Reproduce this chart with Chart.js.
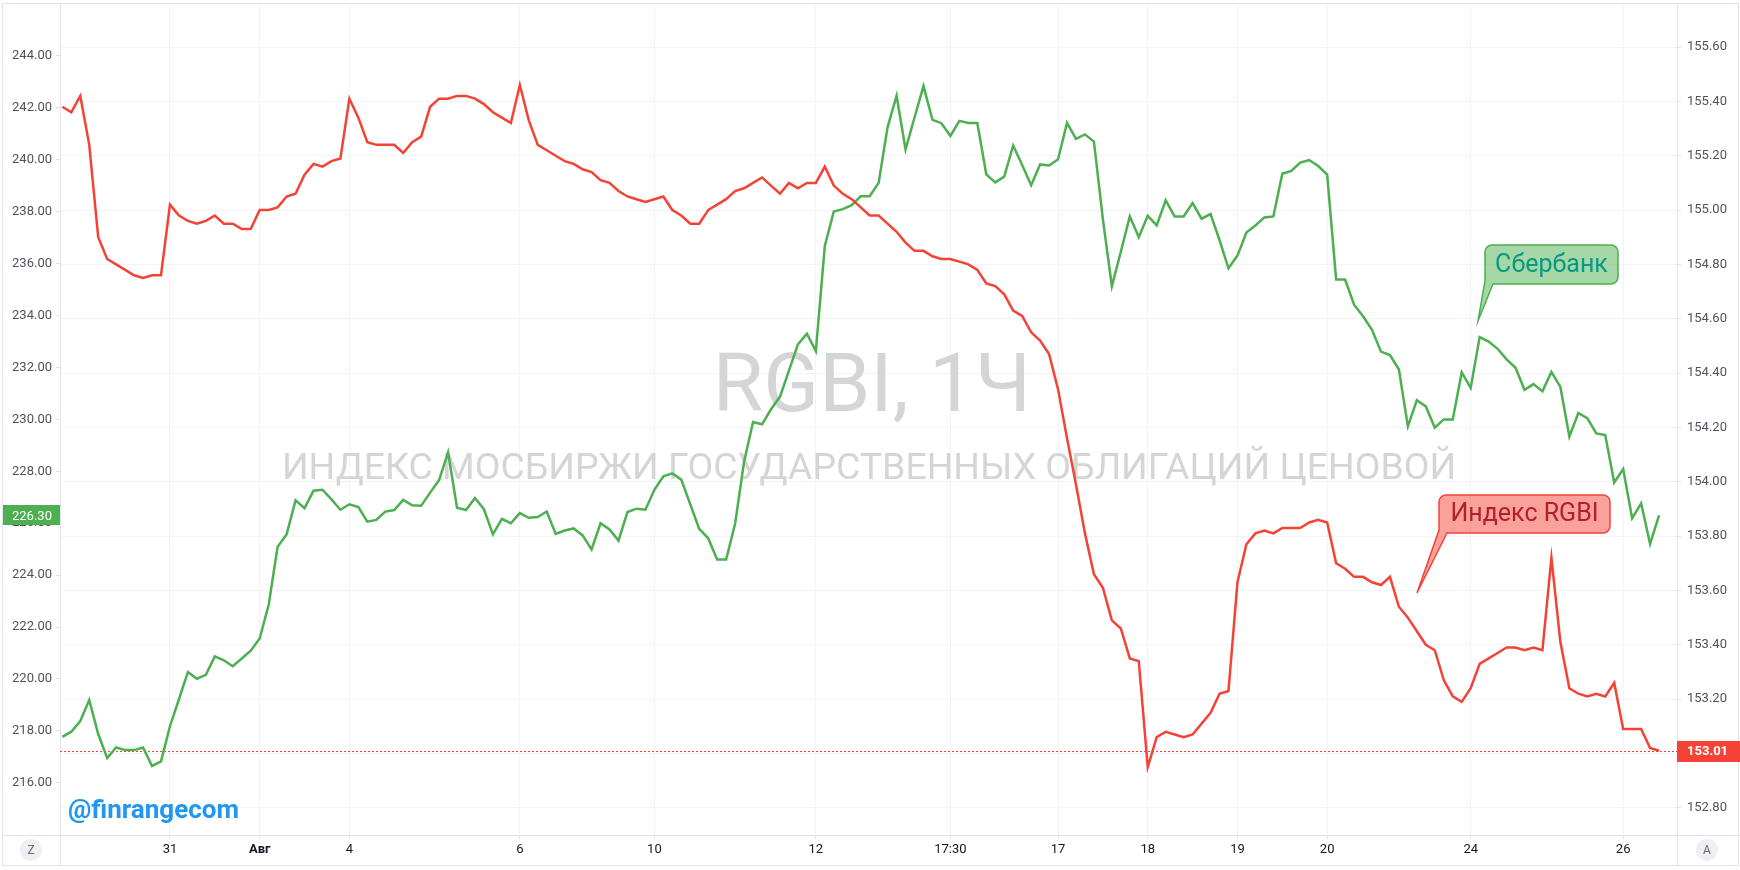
<!DOCTYPE html>
<html>
<head>
<meta charset="utf-8">
<script src="https://cdn.jsdelivr.net/npm/chart.js@4.4.0/dist/chart.umd.min.js"></script>
<style>
  body { margin: 0; background: #fff; }
  #wrap { width: 1740px; height: 870px; }
</style>
</head>
<body>
<div id="wrap"><canvas id="chart" width="1740" height="870"></canvas></div>
<script>
'use strict';

// hourly closes (left axis = Сбербанк, right axis = RGBI)
var sber = [
  217.77, 217.97, 218.38, 219.19, 217.88, 216.95, 217.36, 217.26, 217.26, 217.36,
  216.65, 216.83, 218.18, 219.22, 220.27, 220.01, 220.16, 220.87, 220.72, 220.49,
  220.79, 221.09, 221.56, 222.85, 225.09, 225.57, 226.88, 226.58, 227.25, 227.29,
  226.92, 226.52, 226.73, 226.62, 226.06, 226.13, 226.45, 226.51, 226.90, 226.69,
  226.67, 227.18, 227.66, 228.73, 226.60, 226.51, 226.97, 226.54, 225.57, 226.17,
  226.00, 226.39, 226.21, 226.24, 226.45, 225.59, 225.72, 225.80, 225.53, 224.99,
  226.00, 225.76, 225.33, 226.43, 226.56, 226.52, 227.29, 227.81, 227.92, 227.68,
  226.73, 225.78, 225.42, 224.60, 224.60, 225.98, 228.37, 229.90, 229.81, 230.39,
  230.87, 231.88, 232.89, 233.30, 232.63, 236.68, 238.01, 238.10, 238.25, 238.60,
  238.60, 239.11, 241.26, 242.47, 240.40, 241.63, 242.84, 241.54, 241.41, 240.92,
  241.50, 241.42, 241.42, 239.44, 239.13, 239.35, 240.55, 239.80, 239.02, 239.82,
  239.78, 240.02, 241.42, 240.81, 240.98, 240.70, 237.71, 235.13, 236.46, 237.82,
  237.02, 237.84, 237.47, 238.44, 237.82, 237.82, 238.33, 237.73, 237.91, 236.91,
  235.82, 236.31, 237.20, 237.47, 237.78, 237.82, 239.46, 239.57, 239.89, 239.99,
  239.76, 239.43, 235.39, 235.39, 234.42, 233.97, 233.45, 232.61, 232.48, 231.92,
  229.73, 230.74, 230.50, 229.68, 230.00, 230.00, 231.81, 231.21, 233.17, 233.00,
  232.72, 232.31, 231.99, 231.14, 231.36, 231.08, 231.83, 231.25, 229.34, 230.24,
  230.05, 229.46, 229.40, 227.57, 228.09, 226.19, 226.77, 225.20, 226.30
];

var rgbi = [
  155.38, 155.36, 155.42, 155.24, 154.90, 154.82, 154.80, 154.78, 154.76, 154.75,
  154.76, 154.76, 155.02, 154.98, 154.96, 154.95, 154.96, 154.98, 154.95, 154.95,
  154.93, 154.93, 155.00, 155.00, 155.01, 155.05, 155.06, 155.13, 155.17, 155.16,
  155.18, 155.19, 155.41, 155.34, 155.25, 155.24, 155.24, 155.24, 155.21, 155.25,
  155.27, 155.38, 155.41, 155.41, 155.42, 155.42, 155.41, 155.39, 155.36, 155.34,
  155.32, 155.46, 155.33, 155.24, 155.22, 155.20, 155.18, 155.17, 155.15, 155.14,
  155.11, 155.10, 155.07, 155.05, 155.04, 155.03, 155.04, 155.05, 155.00, 154.98,
  154.95, 154.95, 155.00, 155.02, 155.04, 155.07, 155.08, 155.10, 155.12, 155.09,
  155.06, 155.10, 155.08, 155.10, 155.10, 155.16, 155.09, 155.06, 155.04, 155.01,
  154.98, 154.98, 154.95, 154.92, 154.88, 154.85, 154.85, 154.83, 154.82, 154.82,
  154.81, 154.80, 154.78, 154.73, 154.72, 154.69, 154.63, 154.61, 154.55, 154.52,
  154.47, 154.34, 154.16, 153.99, 153.81, 153.66, 153.61, 153.49, 153.46, 153.35,
  153.34, 152.95, 153.06, 153.08, 153.07, 153.06, 153.07, 153.11, 153.15, 153.22,
  153.23, 153.63, 153.77, 153.81, 153.82, 153.81, 153.83, 153.83, 153.83, 153.85,
  153.86, 153.85, 153.70, 153.68, 153.65, 153.65, 153.63, 153.62, 153.65, 153.54,
  153.50, 153.45, 153.40, 153.38, 153.27, 153.21, 153.19, 153.24, 153.33, 153.35,
  153.37, 153.39, 153.39, 153.38, 153.39, 153.38, 153.72, 153.41, 153.24, 153.22,
  153.21, 153.22, 153.21, 153.26, 153.09, 153.09, 153.09, 153.02, 153.01
];

// x tick labels sit on bar numbers
var xTickIdx  = [12, 22, 32, 51, 66, 84, 99, 111, 121, 131, 141, 157, 174];
var xTickText = ['31', 'Авг', '4', '6', '10', '12', '17:30', '17', '18', '19', '20', '24', '26'];
var xTickBold = ['Авг'];

var leftTicks  = [216, 218, 220, 222, 224, 226, 228, 230, 232, 234, 236, 238, 240, 242, 244];
var rightTicks = [152.8, 153.0, 153.2, 153.4, 153.6, 153.8, 154.0, 154.2, 154.4, 154.6, 154.8, 155.0, 155.2, 155.4, 155.6];

var GREEN = '#4caf50';
var RED = '#f44336';
var GRID = '#f0f3fa';
var LINE = '#e0e3eb';
var TXT = '#50535e';
var FONT = 'Roboto, "Noto Sans", sans-serif';

function toPoints(arr) {
  return arr.map(function (v, i) { return { x: i, y: v }; });
}

// no extra room for the edge labels, the plot goes right to the frame
function noPad(axis) {
  axis.paddingTop = 0;
  axis.paddingBottom = 0;
  axis.paddingLeft = 0;
  axis.paddingRight = 0;
}

// speech bubble with the tail hanging from the lower left corner
function callout(ctx, x, y, w, h, tipX, tipY, fill, stroke, text, color) {
  var r = 7;
  ctx.beginPath();
  ctx.moveTo(x + r, y);
  ctx.lineTo(x + w - r, y);
  ctx.arcTo(x + w, y, x + w, y + r, r);
  ctx.lineTo(x + w, y + h - r);
  ctx.arcTo(x + w, y + h, x + w - r, y + h, r);
  ctx.lineTo(x + 8, y + h);
  ctx.lineTo(tipX, tipY);
  ctx.lineTo(x, y + h - 3);
  ctx.lineTo(x, y + r);
  ctx.arcTo(x, y, x + r, y, r);
  ctx.closePath();
  ctx.fillStyle = fill;
  ctx.fill();
  ctx.lineWidth = 1.5;
  ctx.strokeStyle = stroke;
  ctx.stroke();
  ctx.fillStyle = color;
  ctx.font = '25px ' + FONT;
  ctx.textAlign = 'center';
  ctx.textBaseline = 'middle';
  ctx.fillText(text, x + w / 2, y + h / 2 + 1);
}

function circleBtn(ctx, cx, cy, letter) {
  ctx.beginPath();
  ctx.arc(cx, cy, 11, 0, Math.PI * 2);
  ctx.fillStyle = '#eef0f4';
  ctx.fill();
  ctx.fillStyle = '#6a6d78';
  ctx.font = '12px ' + FONT;
  ctx.textAlign = 'center';
  ctx.textBaseline = 'middle';
  ctx.fillText(letter, cx, cy + 1);
}

var overlay = {
  id: 'overlay',
  beforeDatasetsDraw: function (chart) {
    var ctx = chart.ctx;
    var a = chart.chartArea;
    ctx.save();
    // watermark
    ctx.fillStyle = '#d5d5d5';
    ctx.textAlign = 'center';
    ctx.textBaseline = 'alphabetic';
    ctx.font = '82px ' + FONT;
    ctx.fillText('RGBI, 1Ч', 872, 411);
    var sub = 'ИНДЕКС МОСБИРЖИ ГОСУДАРСТВЕННЫХ ОБЛИГАЦИЙ ЦЕНОВОЙ';
    ctx.font = '41px ' + FONT;
    var fs = 41 * 1176 / ctx.measureText(sub).width;
    ctx.font = fs.toFixed(1) + 'px ' + FONT;
    ctx.fillText(sub, 869, 479);

    // last price line of RGBI
    var yR = chart.scales.yR.getPixelForValue(rgbi[rgbi.length - 1]);
    ctx.strokeStyle = RED;
    ctx.lineWidth = 1;
    ctx.setLineDash([2, 2]);
    ctx.beginPath();
    ctx.moveTo(a.left, Math.round(yR) + 0.5);
    ctx.lineTo(a.right, Math.round(yR) + 0.5);
    ctx.stroke();
    ctx.restore();
  },
  afterDraw: function (chart) {
    var ctx = chart.ctx;
    var a = chart.chartArea;
    ctx.save();

    // frame and the little axis cells
    ctx.strokeStyle = LINE;
    ctx.lineWidth = 1;
    ctx.strokeRect(2.5, 3.5, 1736, 862);
    ctx.beginPath();
    ctx.moveTo(a.left + 0.5, a.bottom);
    ctx.lineTo(a.left + 0.5, 866);
    ctx.moveTo(a.right + 0.5, a.bottom);
    ctx.lineTo(a.right + 0.5, 866);
    ctx.moveTo(2, a.bottom + 0.5);
    ctx.lineTo(1740, a.bottom + 0.5);
    ctx.stroke();
    circleBtn(ctx, 31, 850, 'Z');
    circleBtn(ctx, 1707, 850, 'A');

    // last value badges
    var lastS = sber[sber.length - 1];
    var lastR = rgbi[rgbi.length - 1];
    var ys = chart.scales.yL.getPixelForValue(lastS);
    var yr = chart.scales.yR.getPixelForValue(lastR);
    ctx.font = '13px ' + FONT;
    ctx.textBaseline = 'middle';
    ctx.textAlign = 'left';
    ctx.fillStyle = GREEN;
    ctx.fillRect(3, Math.round(ys) - 10, a.left - 3, 20);
    ctx.fillStyle = '#fff';
    ctx.fillText(lastS.toFixed(2), 12, ys + 1);
    ctx.fillStyle = RED;
    ctx.fillRect(a.right, Math.round(yr) - 10, 1740 - a.right, 21);
    ctx.fillStyle = '#fff';
    ctx.font = 'bold 13px ' + FONT;
    ctx.fillText(lastR.toFixed(2), a.right + 10, yr + 1);

    // callouts
    callout(ctx, 1485, 245, 133, 39, 1478, 321, 'rgba(76,175,80,0.5)', GREEN, 'Сбербанк', '#089981');
    callout(ctx, 1439, 495, 171, 38, 1417, 593, 'rgba(244,67,54,0.5)', RED, 'Индекс RGBI', '#b2202c');

    // signature
    ctx.fillStyle = '#2196f3';
    ctx.font = 'bold 26px ' + FONT;
    ctx.textAlign = 'left';
    ctx.textBaseline = 'alphabetic';
    ctx.fillText('@finrangecom', 68, 818);
    ctx.restore();
  }
};

var ctx = document.getElementById('chart').getContext('2d');
var chart = new Chart(ctx, {
  type: 'line',
  data: {
    datasets: [{
      label: 'Индекс RGBI',
      data: toPoints(rgbi),
      yAxisID: 'yR',
      borderColor: RED,
      borderWidth: 2.5,
      pointRadius: 0,
      tension: 0
    }, {
      label: 'Сбербанк',
      data: toPoints(sber),
      yAxisID: 'yL',
      borderColor: GREEN,
      borderWidth: 2.5,
      pointRadius: 0,
      tension: 0
    }]
  },
  options: {
    responsive: false,
    animation: false,
    events: [],
    layout: { padding: { top: 3, bottom: 5, left: 0, right: 0 } },
    plugins: { legend: { display: false }, tooltip: { enabled: false } },
    scales: {
      x: {
        type: 'linear',
        min: -0.26,
        max: 180.0,
        grid: { color: GRID, tickColor: LINE, tickLength: 4 },
        border: { color: LINE },
        afterBuildTicks: function (axis) {
          axis.ticks = xTickIdx.map(function (v) { return { value: v }; });
        },
        afterFit: function (axis) { axis.height = 30; noPad(axis); },
        ticks: {
          autoSkip: false,
          maxRotation: 0,
          padding: 3,
          color: '#131722',
          font: function (c) {
            var t = c.tick ? xTickText[xTickIdx.indexOf(c.tick.value)] : '';
            return { family: FONT, size: 13, weight: xTickBold.indexOf(t) >= 0 ? 'bold' : 'normal' };
          },
          callback: function (v) {
            var k = xTickIdx.indexOf(v);
            return k >= 0 ? xTickText[k] : '';
          }
        }
      },
      yL: {
        position: 'left',
        min: 213.99,
        max: 246.04,
        grid: { drawOnChartArea: false, tickColor: LINE, tickLength: 4 },
        border: { color: LINE },
        afterBuildTicks: function (axis) {
          axis.ticks = leftTicks.map(function (v) { return { value: v }; });
        },
        afterFit: function (axis) { axis.width = 60; noPad(axis); },
        ticks: {
          padding: 4,
          color: TXT,
          font: { family: FONT, size: 13 },
          callback: function (v) { return Number(v).toFixed(2); }
        }
      },
      yR: {
        position: 'right',
        min: 152.70,
        max: 155.762,
        grid: { color: GRID, tickColor: LINE, tickLength: 4 },
        border: { color: LINE },
        afterBuildTicks: function (axis) {
          axis.ticks = rightTicks.map(function (v) { return { value: v }; });
        },
        afterFit: function (axis) { axis.width = 63; noPad(axis); },
        ticks: {
          padding: 6,
          color: TXT,
          font: { family: FONT, size: 13 },
          callback: function (v) { return Number(v).toFixed(2); }
        }
      }
    }
  },
  plugins: [overlay]
});
</script>
</body>
</html>
